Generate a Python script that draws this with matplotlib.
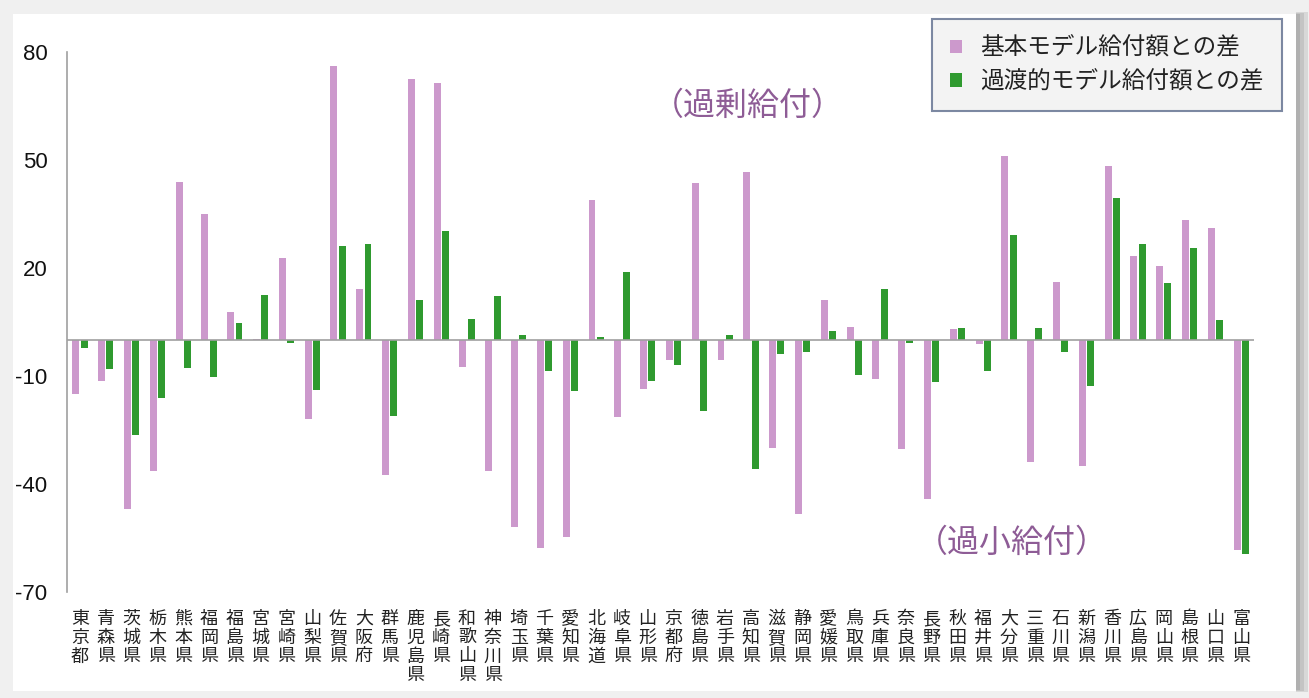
import matplotlib.pyplot as plt
from matplotlib.patches import Rectangle
import numpy as np

prefs = ["東京都", "青森県", "茨城県", "栃木県", "熊本県", "福岡県", "福島県", "宮城県",
         "宮崎県", "山梨県", "佐賀県", "大阪府", "群馬県", "鹿児島県", "長崎県", "和歌山県",
         "神奈川県", "埼玉県", "千葉県", "愛知県", "北海道", "岐阜県", "山形県", "京都府",
         "徳島県", "岩手県", "高知県", "滋賀県", "静岡県", "愛媛県", "鳥取県", "兵庫県",
         "奈良県", "長野県", "秋田県", "福井県", "大分県", "三重県", "石川県", "新潟県",
         "香川県", "広島県", "岡山県", "島根県", "山口県", "富山県"]

# 基本モデル給付額との差
basic = [-15.0, -11.4, -47.0, -36.4, 43.9, 35.1, 7.8, 0.3,
         22.8, -22.0, 76.1, 14.2, -37.5, 72.4, 71.4, -7.6,
         -36.4, -51.9, -57.8, -54.7, 38.8, -21.4, -13.7, -5.6,
         43.6, -5.6, 46.8, -30.0, -48.3, 11.0, 3.5, -10.8,
         -30.3, -44.2, 3.0, -1.1, 51.0, -33.8, 16.2, -34.9,
         48.3, 23.4, 20.6, 33.4, 31.2, -58.2]

# 過渡的モデル給付額との差
trans = [-2.3, -8.1, -26.4, -16.1, -7.7, -10.3, 4.6, 12.6,
         -0.7, -14.0, 26.0, 26.6, -21.0, 11.0, 30.3, 5.7,
         12.1, 1.4, -8.6, -14.1, 0.7, 19.0, -11.4, -7.0,
         -19.7, 1.4, -35.8, -3.9, -3.3, 2.5, -9.7, 14.1,
         -0.9, -11.8, 3.4, -8.6, 29.2, 3.4, -3.3, -12.8,
         39.4, 26.6, 15.8, 25.5, 5.6, -59.4]

yticks = [-70, -40, -10, 20, 50, 80]

pink = "#cc99cc"
green = "#2f9a2f"

fig = plt.figure(figsize=(13.09, 6.98), dpi=100)
fig.patch.set_facecolor("#f0f0f0")

# panel with a soft shadow on the right
for i, c in enumerate(["#d8d8d8", "#c4c4c4", "#b0b0b0"]):
    fig.patches.append(Rectangle((1296 / 1309, (6 + i) / 698), (12 - i * 4) / 1309, (680 - 2 * i) / 698,
                                 transform=fig.transFigure, facecolor=c,
                                 edgecolor="none", zorder=-10 + i))
fig.patches.append(Rectangle((13 / 1309, 7 / 698), 1283 / 1309, 677 / 698,
                             transform=fig.transFigure, facecolor="white",
                             edgecolor="none", zorder=-5))

ax = fig.add_axes([67 / 1309, 1 - 592 / 698, 1187 / 1309, 540 / 698])
ax.set_facecolor("none")
ax.set_zorder(5)

x = np.arange(len(prefs))
w = 0.27
ax.bar(x - 0.155, basic, width=w, color=pink, label="基本モデル給付額との差", zorder=2)
ax.bar(x + 0.165, trans, width=w, color=green, label="過渡的モデル給付額との差", zorder=2)

ax.axhline(0, color="#a0a0a0", lw=1.2, zorder=3)
ax.set_xlim(-0.5, len(prefs) - 0.5)
ax.set_ylim(-70, 80)

for s in ["top", "right", "bottom"]:
    ax.spines[s].set_visible(False)
ax.spines["left"].set_color("#a0a0a0")
ax.spines["left"].set_linewidth(1.2)

ax.set_yticks(yticks)
ax.set_yticklabels([str(v) for v in yticks], fontsize=16, color="#111111",
                   family=["Liberation Sans", "DejaVu Sans"])
ax.tick_params(axis="y", length=0, pad=14)

ax.set_xticks(x)
ax.set_xticklabels(["\n".join(p) for p in prefs], fontsize=13, color="#222222",
                   family=["Noto Sans CJK JP"], linespacing=1.05, va="top")
ax.tick_params(axis="x", length=0, pad=13)

ax.text(25.9, 65, "（過剰給付）", fontsize=23, color="#8e5c96",
        family=["Noto Sans CJK JP"], ha="center", va="center")
ax.text(36.1, -56.4, "（過小給付）", fontsize=23, color="#8e5c96",
        family=["Noto Sans CJK JP"], ha="center", va="center")

leg = ax.legend(loc="upper left", bbox_to_anchor=(932 / 1309, 1 - 19 / 698),
                bbox_transform=fig.transFigure,
                prop={"family": "Noto Sans CJK JP", "size": 17},
                frameon=True, fancybox=False, handlelength=0.5, handleheight=0.5,
                handletextpad=0.8, borderpad=0.75, labelspacing=0.45, borderaxespad=0)
leg.get_frame().set_facecolor("#f0f0f0")
leg.get_frame().set_edgecolor("#5d6c8c")
leg.get_frame().set_linewidth(1.5)
for t in leg.get_texts():
    t.set_color("#222222")

fig.savefig("out.png", dpi=100, facecolor=fig.get_facecolor())
